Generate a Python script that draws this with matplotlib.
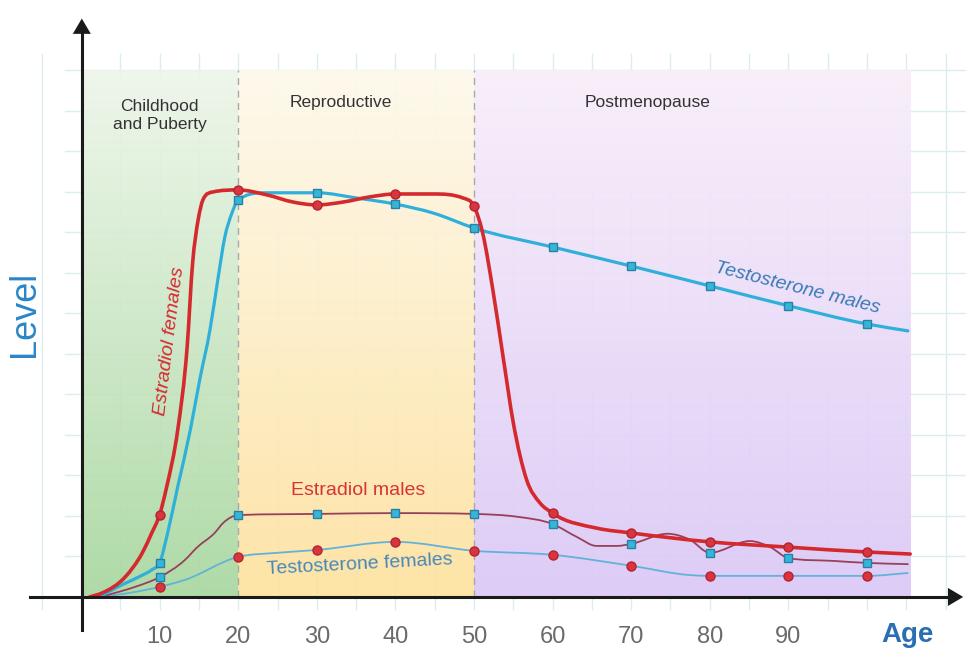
"""
Hormone levels across the life span - estradiol and testosterone in
females and males, with the three life phases shaded.
"""

import numpy as np
import matplotlib
matplotlib.use("Agg")
import matplotlib.pyplot as plt
import matplotlib.colors as mcolors
from matplotlib.path import Path
from matplotlib.patches import PathPatch

plt.rcParams['font.family'] = ['Liberation Sans', 'DejaVu Sans']

# values: age in years, level in grid units
ef_age = [1.1, 2.7, 5.6, 7.8, 9.0, 10, 10.9, 12.3, 13.5, 14.2, 14.9, 15.5,
          16.8, 20, 23.6, 27, 30, 33.3, 36.8, 40, 44.8, 48.6, 50, 51.1, 52.4,
          53.7, 55.0, 56.7, 58.4, 60, 65.6, 70, 80, 90, 100, 105.5]
ef_lvl = [0.0, 0.10, 0.49, 1.09, 1.58, 2.03, 2.72, 4.12, 6.17, 8.25, 9.31,
          9.80, 10.0, 10.05, 9.93, 9.75, 9.68, 9.75, 9.88, 9.95, 9.95, 9.85, 9.65,
          8.99, 7.58, 5.93, 4.30, 2.89, 2.32, 2.07, 1.70, 1.58, 1.36, 1.23, 1.11,
          1.06]

tm_age = [2.4, 4.7, 7.3, 9.0, 10, 11.1, 12.3, 13.9, 15.1, 16.4, 17.4, 18.3, 19.2,
          20, 23.6, 30, 35.1, 40, 44.8, 50, 60, 70, 80, 90, 100, 105.2]
tm_lvl = [0.0, 0.25, 0.49, 0.67, 0.84, 1.65, 2.72, 4.12, 5.36, 6.59, 7.83, 8.89,
          9.48, 9.80, 9.98, 9.98, 9.85, 9.70, 9.48, 9.11, 8.64, 8.17, 7.68, 7.19,
          6.74, 6.57]

em_age = [2.4, 4.7, 6.9, 10, 13.2, 14.8, 17.0, 18.1, 20, 30, 40, 50, 55.5, 60,
          63.1, 65.6, 68.2, 70, 74.6, 77.5, 80, 85.1, 87.7, 90, 95.7, 100, 105.2]
em_lvl = [0.0, 0.12, 0.25, 0.49, 0.91, 1.23, 1.58, 1.83, 2.02, 2.05, 2.07, 2.05,
          1.98, 1.80, 1.48, 1.26, 1.26, 1.31, 1.56, 1.41, 1.09, 1.38, 1.23, 0.96,
          0.89, 0.84, 0.81]

tf_age = [2.4, 6.2, 10, 13.2, 20, 25, 30, 40, 50, 60, 70, 77.5, 80, 90, 100, 105.2]
tf_lvl = [0.0, 0.10, 0.25, 0.42, 0.99, 1.09, 1.16, 1.36, 1.14, 1.04, 0.77, 0.54,
          0.52, 0.52, 0.52, 0.59]

marker_ages = [10, 20, 30, 40, 50, 60, 70, 80, 90, 100]
tick_ages = [10, 20, 30, 40, 50, 60, 70, 80, 90]

phases = ['Childhood\nand Puberty', 'Reproductive', 'Postmenopause']
phase_bounds = [0, 20, 50, 105.5]


def vgrad(ax, x0, x1, y0, y1, c_bot, c_top, alpha=0.93):
    """vertical colour gradient box"""
    cb = np.array(mcolors.to_rgb(c_bot))
    ct = np.array(mcolors.to_rgb(c_top))
    t = np.linspace(0, 1, 256)[:, None]
    img = cb * (1 - t) + ct * t
    ax.imshow(img[:, None, :], extent=[x0, x1, y0, y1], origin='lower',
              aspect='auto', zorder=1, interpolation='bilinear', alpha=alpha)


def smooth_path(ages, lvls):
    """bezier path through the points, three-point slopes clamped so the
    curve does not overshoot"""
    x = np.array(ages, float)
    y = np.array(lvls, float)
    h = np.diff(x)
    dl = np.diff(y) / h
    m = np.zeros_like(x)
    m[0], m[-1] = dl[0], dl[-1]
    for k in range(1, len(x) - 1):
        if dl[k - 1] * dl[k] <= 0:
            continue
        s = (h[k] * dl[k - 1] + h[k - 1] * dl[k]) / (h[k - 1] + h[k])
        lim = 3 * min(abs(dl[k - 1]), abs(dl[k]))
        m[k] = np.sign(s) * min(abs(s), lim)
    verts = [(x[0], y[0])]
    codes = [Path.MOVETO]
    for k in range(len(x) - 1):
        verts += [(x[k] + h[k] / 3, y[k] + m[k] * h[k] / 3),
                  (x[k + 1] - h[k] / 3, y[k + 1] - m[k + 1] * h[k] / 3),
                  (x[k + 1], y[k + 1])]
        codes += [Path.CURVE4] * 3
    return Path(verts, codes)


fig = plt.figure(figsize=(9.66, 6.5), dpi=100)
ax = fig.add_axes([0, 0, 1, 1])
ax.set_axis_off()

# background grid
for a in np.arange(-5, 115, 5):
    ax.plot([a, a], [-0.3, 13.4], color='#dcedef', lw=1, zorder=0)
for l in np.arange(1, 14):
    ax.plot([-2, 115], [l, l], color='#dcedef', lw=1, zorder=0)

# shaded life phases
colors = [('#a9d8a1', '#eef6ea'), ('#fde2a0', '#fdf9ec'), ('#dbc9f6', '#f9eefa')]
for i, (cb, ct) in enumerate(colors):
    vgrad(ax, phase_bounds[i], phase_bounds[i + 1], 0, 13, cb, ct)

for a in [20, 50]:
    ax.plot([a, a], [0, 13], color='#a8a8a8', lw=1, ls=(0, (5, 4)), zorder=2)

ax.text(10, 11.9, phases[0], ha='center', va='center', fontsize=12.5,
        color='#333333', linespacing=1.25, zorder=5)
ax.text(33, 12.2, phases[1], ha='center', va='center', fontsize=12.5,
        color='#333333', zorder=5)
ax.text(72.1, 12.2, phases[2], ha='center', va='center', fontsize=12.5,
        color='#333333', zorder=5)


def series(ages, lvls, color, lw, mk, mfc, mec, ms, z):
    ax.add_patch(PathPatch(smooth_path(ages, lvls), fill=False, edgecolor=color,
                           lw=lw, capstyle='round', joinstyle='round', zorder=z))
    mx = [a for a in ages if a in marker_ages]
    my = [l for a, l in zip(ages, lvls) if a in marker_ages]
    ax.plot(mx, my, ls='none', marker=mk, markersize=ms, markerfacecolor=mfc,
            markeredgecolor=mec, markeredgewidth=1.0, zorder=z + 0.5)


series(tf_age, tf_lvl, '#62b2d9', 1.3, 'o', '#d8353f', '#b52232', 6.5, 6)
series(em_age, em_lvl, '#98405a', 1.3, 's', '#36b6d6', '#2a7fa8', 6, 6)
series(tm_age, tm_lvl, '#2eb0da', 2.3, 's', '#36b6d6', '#2a7fa8', 6, 7)
series(ef_age, ef_lvl, '#d42a2e', 2.6, 'o', '#d8353f', '#b52232', 6.5, 8)

# series labels
ax.text(11.3, 6.32, 'Estradiol females', rotation=83, ha='center', va='center',
        fontsize=14, style='italic', color='#d42a2e', zorder=9)
ax.text(35.2, 2.64, 'Estradiol males', ha='center', va='center',
        fontsize=14, color='#d9342f', zorder=9)
ax.text(35.4, 0.79, 'Testosterone females', rotation=3, ha='center',
        va='center', fontsize=14, color='#4a88b8', zorder=9)
ax.text(91.1, 7.63, 'Testosterone males', rotation=-14, ha='center',
        va='center', fontsize=14, style='italic', color='#3a7ab8', zorder=9)

# axes with arrows
ax.plot([0.1, 0.1], [-0.81, 14.0], color='#1a1a1a', lw=2.2, zorder=10)
ax.annotate('', xy=(0.1, 14.35), xytext=(0.1, 13.6),
            arrowprops=dict(arrowstyle='-|>,head_length=1.1,head_width=0.65',
                            color='#1a1a1a', lw=0), zorder=10)
ax.plot([-6.5, 110.5], [0, 0], color='#1a1a1a', lw=2.2, zorder=10)
ax.annotate('', xy=(112.6, 0), xytext=(109.5, 0),
            arrowprops=dict(arrowstyle='-|>,head_length=1.1,head_width=0.65',
                            color='#1a1a1a', lw=0), zorder=10)

for a in tick_ages:
    ax.text(a, -0.98, str(a), ha='center', va='center', fontsize=17,
            color='#6a6a6a', zorder=10)
ax.text(105.2, -0.94, 'Age', ha='center', va='center', fontsize=20,
        fontweight='bold', color='#2b6fb3', zorder=10)
ax.text(-7.2, 7.0, 'Level', rotation=90, ha='center', va='center',
        fontsize=26, color='#2a86c8', zorder=10)

ax.set_xlim(-10.31, 112.6)
ax.set_ylim(-1.31, 14.74)

fig.savefig('out.png', dpi=100)
